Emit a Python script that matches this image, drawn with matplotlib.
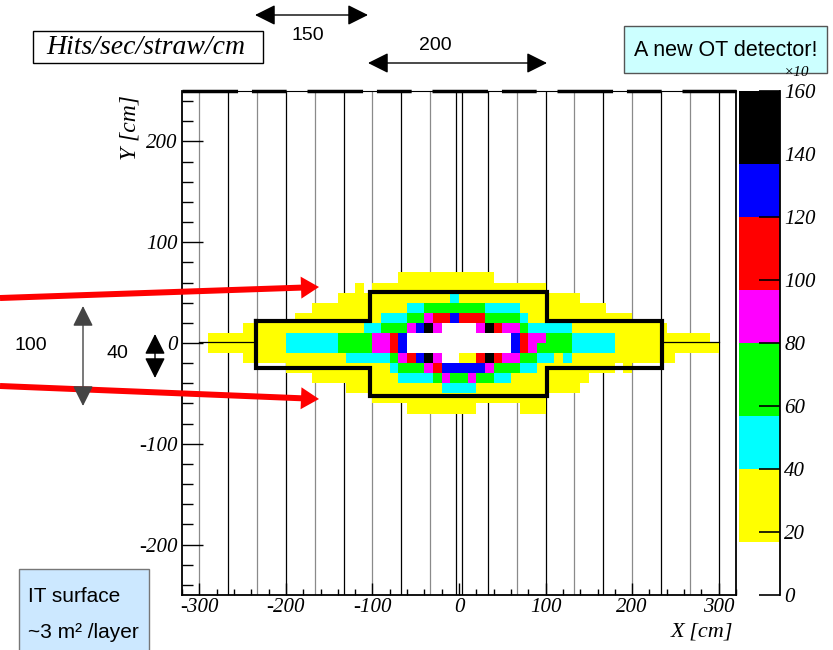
import numpy as np
import matplotlib.pyplot as plt
from matplotlib.colors import ListedColormap, BoundaryNorm
from matplotlib.patches import Rectangle
from matplotlib.ticker import MultipleLocator

plt.rcParams['axes.unicode_minus'] = False
plt.rcParams['font.family'] = 'Liberation Serif'
plt.rcParams['font.style'] = 'italic'

# rate scale (x10 hits/sec/straw/cm) and its colour bands
levels = [16.7, 40, 56.7, 80, 96.7, 120, 136.7, 160]
band_colors = ['#ffff00', '#00ffff', '#00ff00', '#ff00ff', '#ff0000', '#0000ff', '#000000']
band_rate = [30, 48, 68, 88, 108, 128, 148]
# cell codes: '1'..'7' = band, 'w' = centre hole (above scale), '.' = empty
code_rate = {'1': 30, '2': 48, '3': 68, '4': 88, '5': 108, '6': 128, '7': 148, 'w': 999}

# 10x10 cm cells, x from -300 to 300 cm, rows from y=70 down to y=-70 cm
x_edges = np.arange(-300, 301, 10)
y_edges = np.arange(70, -71, -10)
rate_rows = [
    '.' * 23 + '1' * 11 + '.' * 26,
    '.' * 18 + '1' + '.' + '1' * 20 + '.' * 20,
    '.' * 16 + '1' * 13 + '2' + '1' * 14 + '.' * 16,
    '.' * 13 + '1' * 11 + '22' + '3' * 7 + '2222' + '1' * 10 + '.' * 13,
    '.' * 11 + '1' * 10 + '222' + '33' + '4' + '55' + '6' + '555' + '3333' + '2' + '1' * 12 + '.' * 10,
    '.' * 5 + '1' * 14 + '22' + '333' + '4' + '6' + '7' + '4' + 'wwww' + '4' + '7' + '5' + '44' + '3' + '2' * 5 + '1' * 11 + '.' * 6,
    '.' + '1' * 9 + '2' * 6 + '3333' + '44' + '5' + '6' + 'w' * 12 + '6' + '5' + '44' + '333' + '2' * 5 + '1' * 11 + '.',
    '.' + '1' * 9 + '2' * 6 + '3333' + '44' + '5' + '6' + 'w' * 12 + '6' + '5' + '4' + '3333' + '2' * 5 + '1' * 12,
    '.' * 5 + '1' * 12 + '2' * 5 + '3' + '4' + '5' + '6' + '7' + '4' + 'ww' + '11' + '5' + '7' + '5' + '44' + '33' + '22' + '1' + '2' + '1' * 12 + '.' * 5,
    '.' * 10 + '1' * 12 + '2' + '333' + '4' + '5' + '6' * 5 + '4' + '333' + '22' + '1' * 9 + '.' + '1' + '.' * 10,
    '.' * 13 + '1' * 10 + '2222' + '3' + '4' + '33' + '4' + '33' + '22' + '1' * 9 + '.' * 15,
    '.' * 17 + '1' * 11 + '2222' + '1' * 12 + '.' * 16,
    '.' * 20 + '1' * 20 + '.' * 20,
    '.' * 24 + '1' * 8 + '.' * 5 + '111' + '.' * 20,
]
for row in rate_rows:
    assert len(row) == 60, (len(row), row)

# straw module borders (cm), 1 = grey line
module_x = [-300, -266.7, -233.3, -200, -166.7, -133.3, -100, -66.7, -33.3, -3,
            3, 33.3, 66.7, 100, 133.3, 166.7, 200, 233.3, 266.7, 300]
module_gray = [1, 0, 1, 0, 1, 0, 1, 0, 1, 0, 0, 0, 1, 0, 1, 0, 1, 0, 1, 0]
# IT box outline (cm)
it_x = [-234, -103, -103, 102, 102, 234, 234, 102, 102, -103, -103, -234, -234]
it_y = [22, 22, 51, 51, 22, 22, -25, -25, -53, -53, -25, -25, 22]

W, H = 833, 650


def frac(l, t, r, b):
    return [l / W, 1 - b / H, (r - l) / W, (b - t) / H]


fig = plt.figure(figsize=(W / 100, H / 100), dpi=100)

ax = fig.add_axes(frac(182, 91, 736, 595))
Z = np.array([[np.nan if ch == '.' else code_rate[ch] for ch in row] for row in rate_rows])
cmap = ListedColormap(band_colors)
cmap.set_over('white')
cmap.set_bad((1, 1, 1, 0))
norm = BoundaryNorm(levels, cmap.N)
ax.pcolormesh(x_edges, y_edges, np.ma.masked_invalid(Z), cmap=cmap, norm=norm, zorder=2)

for x, g in zip(module_x, module_gray):
    ax.axvline(x, color='#8a8a8a' if g else 'black', lw=0.9, zorder=1)
ax.plot([-300, -234], [1, 1], color='black', lw=0.9, zorder=3)
ax.plot([234, 300], [1, 1], color='black', lw=0.9, zorder=3)
ax.plot(it_x, it_y, color='black', lw=3, zorder=4, solid_joinstyle='miter')

ax.set_xlim(-320, 320)
ax.set_ylim(-250, 250)
ax.set_xticks(range(-300, 301, 100))
ax.set_yticks(range(-200, 201, 100))
ax.xaxis.set_minor_locator(MultipleLocator(20))
ax.yaxis.set_minor_locator(MultipleLocator(20))
ax.tick_params(which='both', direction='in', labelsize=15, width=1)
ax.tick_params(axis='x', which='major', length=9, pad=2)
ax.tick_params(axis='x', which='minor', length=4.5)
ax.tick_params(axis='y', which='major', length=15, pad=3)
ax.tick_params(axis='y', which='minor', length=8)
for s in ['left', 'bottom', 'right']:
    ax.spines[s].set_linewidth(1.3)
ax.spines['top'].set_linewidth(0.8)
ax.plot([-320, 320], [250, 250], color='black', lw=2.5, dashes=(16, 4, 10, 6),
        clip_on=False, zorder=5)

# colour scale
cax = fig.add_axes(frac(739, 91, 780, 595))
cax.pcolormesh([0, 1], levels, np.array(band_rate)[:, None], cmap=cmap, norm=norm)
cax.set_xlim(0, 1)
cax.set_ylim(0, 160)
cax.set_yticks(range(0, 161, 20))
cax.set_xticks([])
for s in ['left', 'top', 'bottom']:
    cax.spines[s].set_visible(False)
cax.spines['right'].set_linewidth(1.3)
cax.yaxis.tick_right()
cax.tick_params(axis='y', direction='in', length=15, width=1.2, labelsize=15, pad=3)

# slide annotations in pixel coordinates
ov = fig.add_axes([0, 0, 1, 1], zorder=10)
ov.set_xlim(0, W)
ov.set_ylim(H, 0)
ov.axis('off')
ov.patch.set_alpha(0)

sans = dict(family='Liberation Sans', style='normal')

ov.text(797, 73, '×10', ha='center', va='center', fontsize=11)
ov.text(733, 632, 'X [cm]', ha='right', va='center', fontsize=16)
ov.text(130, 128, 'Y [cm]', ha='center', va='center', rotation=90, fontsize=17)

ov.add_patch(Rectangle((33, 31), 230, 32, fc='white', ec='black', lw=1))
ov.text(146, 48, 'Hits/sec/straw/cm', ha='center', va='center', fontsize=20)

arrow2 = dict(arrowstyle='<|-|>,head_length=0.7,head_width=0.35', color='black',
              lw=1, mutation_scale=18, shrinkA=0, shrinkB=0)
ov.annotate('', xy=(255, 15), xytext=(368, 15), arrowprops=arrow2)
ov.text(308, 36, '150', ha='center', va='center', fontsize=14, **sans)
ov.annotate('', xy=(368, 63), xytext=(547, 63), arrowprops=arrow2)
ov.text(435, 45, '200', ha='center', va='center', fontsize=14, **sans)

ov.annotate('', xy=(83, 306), xytext=(83, 406),
            arrowprops=dict(arrow2, color='#444444'))
ov.text(31, 345, '100', ha='center', va='center', fontsize=14, **sans)
ov.annotate('', xy=(155, 334), xytext=(155, 378), arrowprops=arrow2)
ov.text(117, 353, '40', ha='center', va='center', fontsize=14, **sans)

ov.arrow(0, 298, 319, -11, width=6, head_width=22, head_length=18,
         length_includes_head=True, color='red', ec='none')
ov.arrow(0, 386, 319, 13, width=6, head_width=22, head_length=18,
         length_includes_head=True, color='red', ec='none')

ov.add_patch(Rectangle((624, 26), 203, 47, fc='#ccffff', ec='#555555', lw=1))
ov.text(726, 50, 'A new OT detector!', ha='center', va='center', fontsize=15.5, **sans)

ov.add_patch(Rectangle((19, 569), 130, 90, fc='#cce8ff', ec='#777777', lw=1))
ov.text(28, 596, 'IT surface', ha='left', va='center', fontsize=15, **sans)
ov.text(28, 632, '~3 m² /layer', ha='left', va='center', fontsize=15, **sans)

fig.savefig('out.png', dpi=100)
